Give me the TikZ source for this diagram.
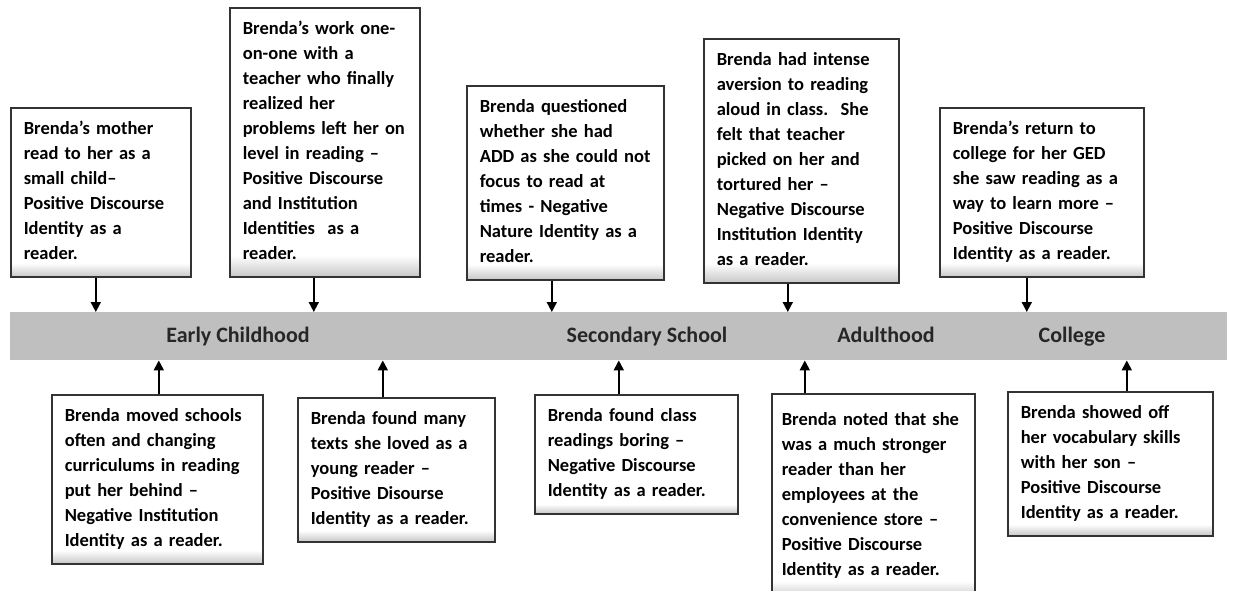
\documentclass[tikz,border=0pt]{standalone}
\usepackage{fontspec}
\setmainfont{Carlito}
\usepackage{tikz}
\usetikzlibrary{arrows.meta}

% light grey fade along the bottom edge of each box
\pgfdeclareverticalshading{boxshade}{100bp}{color(0bp)=(black!22); color(25bp)=(black!22); color(29bp)=(white); color(100bp)=(white)}

\begin{document}
\begin{tikzpicture}[
  x=1pt, y=-1pt,
  event/.style={
    rectangle,
    draw=black!80,
    line width=1.6pt,
    shade,
    shading=boxshade,
    anchor=north west,
    align=left,
    inner xsep=13pt,
    inner ysep=9.5pt,
    font=\fontsize{18.5}{25}\selectfont\bfseries,
    execute at begin node=\strut,
    execute at end node=\strut
  },
  period/.style={font=\fontsize{22}{26}\selectfont\bfseries, text=black!85, anchor=base},
  arrow/.style={-{Triangle[width=10pt,length=10pt]}, line width=1.8pt}
]

\useasboundingbox (0,0) rectangle (1234,590);
\fill[white] (0,0) rectangle (1234,590);

% Timeline band
\node[fill=black!25, minimum width=1217pt, minimum height=48pt, inner sep=0pt, anchor=north west] (band) at (10,312) {};
\node[period] (early) at (238,342) {Early Childhood};
\node[period] (secondary) at (647,342) {Secondary School};
\node[period] (adult) at (886,342) {Adulthood};
\node[period] (college) at (1072,342) {College};

% Nodes above the band
\node[event, text width=154pt] (mother) at (10,107) {Brenda’s mother\\ read to her as a\\ small child–\\ Positive Discourse\\ Identity as a\\ reader.};
\node[event, text width=164pt] (oneonone) at (229,7) {Brenda’s work one-\\ on-one with a\\ teacher who finally\\ realized her\\ problems left her on\\ level in reading –\\ Positive Discourse\\ and Institution\\ Identities ~as a\\ reader.};
\node[event, text width=171pt] (add) at (466,85) {Brenda questioned\\ whether she had\\ ADD as she could not\\ focus to read at\\ times - Negative\\ Nature Identity as a\\ reader.};
\node[event, text width=169pt] (aloud) at (703,38) {Brenda had intense\\ aversion to reading\\ aloud in class. \,She\\ felt that teacher\\ picked on her and\\ tortured her –\\ Negative Discourse\\ Institution Identity\\ as a reader.};
\node[event, text width=178pt] (ged) at (939,107) {Brenda’s return to\\ college for her GED\\ she saw reading as a\\ way to learn more –\\ Positive Discourse\\ Identity as a reader.};

% Nodes below the band
\node[event, text width=185pt] (moved) at (51,394) {Brenda moved schools\\ often and changing\\ curriculums in reading\\ put her behind –\\ Negative Institution\\ Identity as a reader.};
\node[event, text width=171pt] (texts) at (297,397) {Brenda found many\\ texts she loved as a\\ young reader –\\ Positive Disourse\\ Identity as a reader.};
\node[event, text width=177pt] (boring) at (534,394) {Brenda found class\\ readings boring –\\ Negative Discourse\\ Identity as a reader.};
\node[event, text width=183pt, inner xsep=10pt, minimum height=204pt] (store) at (771,393) {Brenda noted that she\\ was a much stronger\\ reader than her\\ employees at the\\ convenience store –\\ Positive Discourse\\ Identity as a reader.};
\node[event, text width=179pt] (son) at (1007,391) {Brenda showed off\\ her vocabulary skills\\ with her son –\\ Positive Discourse\\ Identity as a reader.};

% Arrows down to the band
\draw[arrow] ([xshift=-5pt]mother.south) -- ([xshift=-5pt]mother.south |- band.north);
\draw[arrow] ([xshift=-11pt]oneonone.south) -- ([xshift=-11pt]oneonone.south |- band.north);
\draw[arrow] ([xshift=-13.5pt]add.south) -- ([xshift=-13.5pt]add.south |- band.north);
\draw[arrow] ([xshift=-13.5pt]aloud.south) -- ([xshift=-13.5pt]aloud.south |- band.north);
\draw[arrow] ([xshift=-15pt]ged.south) -- ([xshift=-15pt]ged.south |- band.north);

% Arrows up to the band
\draw[arrow] ([xshift=1.5pt]moved.north) -- ([xshift=1.5pt]moved.north |- band.south);
\draw[arrow] ([xshift=-13.5pt]texts.north) -- ([xshift=-13.5pt]texts.north |- band.south);
\draw[arrow] ([xshift=-17.5pt]boring.north) -- ([xshift=-17.5pt]boring.north |- band.south);
\draw[arrow] ([xshift=-68.5pt]store.north) -- ([xshift=-68.5pt]store.north |- band.south);
\draw[arrow] ([xshift=16.5pt]son.north) -- ([xshift=16.5pt]son.north |- band.south);

\end{tikzpicture}
\end{document}
